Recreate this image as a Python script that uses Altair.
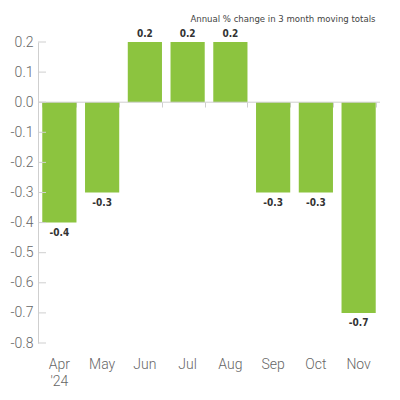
import altair as alt
import pandas as pd

months = ["Apr", "May", "Jun", "Jul", "Aug", "Sep", "Oct", "Nov"]
values = [-0.4, -0.3, 0.2, 0.2, 0.2, -0.3, -0.3, -0.7]
y_ticks = [0.2, 0.1, 0.0, -0.1, -0.2, -0.3, -0.4, -0.5, -0.6, -0.7, -0.8]
subtitle = "Annual % change in 3 month moving totals"

df = pd.DataFrame({"month": months, "value": values,
                   "label": [f"{v:.1f}" for v in values]})
ticks_df = pd.DataFrame({"v": y_ticks})

green = "#8cc43f"
axis_grey = "#cfcfcf"
label_font = "Roboto"
value_font = "Liberation Sans Narrow, DejaVu Sans Condensed, Open Sans, sans-serif"

x_scale = alt.Scale(paddingInner=0.2, paddingOuter=0.1)
y_scale = alt.Scale(domain=[-0.8, 0.2], nice=False)

y_axis = alt.Axis(values=y_ticks, format=".1f", grid=False, ticks=False,
                  domainColor=axis_grey, labelFont=label_font, labelFontWeight=300,
                  labelFontSize=14, labelColor="#666", labelPadding=5,
                  labelExpr="replace(datum.label, '\u2212', '-')")
y_enc = alt.Y("value:Q", scale=y_scale, title=None, axis=y_axis)

base = alt.Chart(df)

bars = base.mark_bar(color=green).encode(
    x=alt.X("month:N", sort=months, scale=x_scale, title=None,
            axis=alt.Axis(orient="bottom", domain=False, ticks=False, labelAngle=0,
                          labelFont=label_font, labelFontWeight=300, labelFontSize=14,
                          labelColor="#666", labelPadding=14, labelLineHeight=17,
                          labelExpr="datum.value == 'Apr' ? ['Apr', \"'24\"] : datum.value")),
    y=y_enc,
)

zero = alt.Chart(pd.DataFrame({"value": [0]})).mark_rule(color=axis_grey, strokeWidth=1).encode(
    y=y_enc
)

# inward ticks on the y axis
yticks = alt.Chart(ticks_df).mark_rule(color=axis_grey).encode(
    y=alt.Y("v:Q", scale=y_scale, title=None, axis=y_axis),
    x=alt.value(0),
    x2=alt.value(8),
)

# small band ticks hanging from the zero line
sep = base.mark_bar(opacity=0).encode(
    x=alt.X("month:N", sort=months, scale=x_scale, title=None,
            axis=alt.Axis(orient="bottom", offset=-241, domain=False, labels=False,
                          tickBand="extent", tickSize=5, tickColor=axis_grey, zindex=0)),
    y=y_enc,
)

pos_text = base.transform_filter("datum.value > 0").mark_text(
    baseline="bottom", dy=-3, font=value_font, fontWeight="bold", fontSize=10, color="#333"
).encode(
    x=alt.X("month:N", sort=months, scale=x_scale, axis=None),
    y=y_enc,
    text="label:N",
)

neg_text = base.transform_filter("datum.value < 0").mark_text(
    baseline="top", dy=5, font=value_font, fontWeight="bold", fontSize=10, color="#333"
).encode(
    x=alt.X("month:N", sort=months, scale=x_scale, axis=None),
    y=y_enc,
    text="label:N",
)

chart = alt.layer(sep, bars, zero, yticks, pos_text, neg_text).resolve_axis(
    x="independent"
).properties(
    width=342,
    height=301,
    padding={"left": 30, "top": 34, "right": 10, "bottom": 55},
    autosize=alt.AutoSizeParams(type="none"),
    title=alt.TitleParams(subtitle, anchor="end", fontSize=9.5, font=value_font,
                          fontWeight="normal", color="#444", offset=6, dx=-5),
).configure_view(stroke=None)

chart.save("out.html", embed_options={"renderer": "svg", "actions": False})
